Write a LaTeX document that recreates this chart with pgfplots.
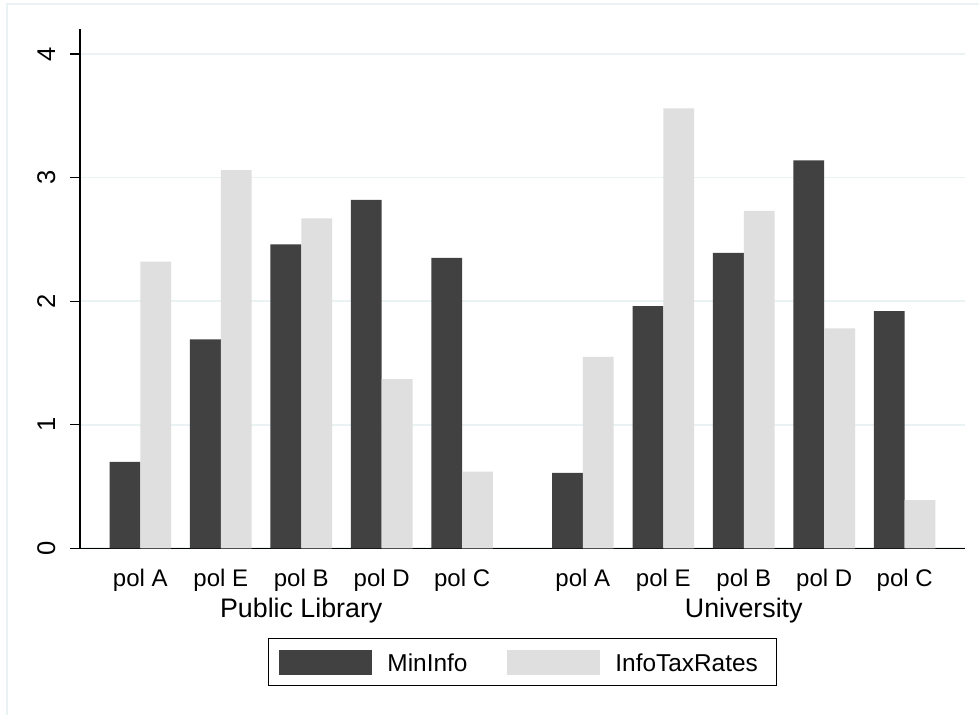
\documentclass[border=0pt]{standalone}
\usepackage{pgfplots}
\pgfplotsset{compat=1.18}
\usepackage{fontspec}
\setmainfont{Liberation Sans}
\definecolor{darkbar}{HTML}{414141}
\definecolor{lightbar}{HTML}{DFDFDF}
\definecolor{gridc}{HTML}{EAF2F3}
\begin{document}
\begin{tikzpicture}
\useasboundingbox (0,0) rectangle (489.5pt,357.5pt);
\fill[white] (0,0) rectangle (489.5pt,357.5pt);
\draw[gridc, line width=0.75pt] (3.6pt,0) -- (3.6pt,355.5pt) -- (489.5pt,355.5pt);
\begin{axis}[
  at={(40pt,83.35pt)}, anchor=south west,
  scale only axis, width=442.5pt, height=259.5pt,
  xmin=-0.75, xmax=10.25, ymin=0, ymax=4.2,
  axis x line*=bottom, axis y line*=left,
  axis line style={black, line width=0.6pt},
  ybar=0pt, bar width=15.4pt,
  xtick={0,1,2,3,4,5.5,6.5,7.5,8.5,9.5},
  xticklabels={pol A,pol E,pol B,pol D,pol C,pol A,pol E,pol B,pol D,pol C},
  xtick style={draw=none},
  ytick={0,1,2,3,4},
  ytick style={black, line width=0.6pt},
  tick align=outside, major tick length=5pt,
  ymajorgrids, grid style={gridc, line width=0.9pt},
  /pgf/number format/assume math mode=true,
  xticklabel style={font=\fontsize{12}{14}\selectfont, anchor=base, yshift=-14.2pt},
  yticklabel style={font=\fontsize{12.8}{15}\selectfont, rotate=90, anchor=base, yshift=7.5pt},
  clip=false,
  legend columns=2, legend cell align=left,
  legend style={at={(0.5,-0.1734)}, anchor=north, draw=black, line width=0.6pt,
    inner xsep=5.35pt, inner ysep=5.35pt, font=\fontsize{12.2}{14}\selectfont,
    nodes={inner sep=0pt, text height=8.8pt, text depth=0pt},
    column sep=7.5pt,
    /tikz/every even column/.append style={column sep=19.65pt}},
  legend image code/.code={\fill[#1] (0pt,-6.35pt) rectangle (46.8pt,6.35pt);},
]
\addplot[fill=darkbar, draw=none] coordinates {(0,0.70) (1,1.69) (2,2.46) (3,2.82) (4,2.35) (5.5,0.61) (6.5,1.96) (7.5,2.39) (8.5,3.14) (9.5,1.92)};
\addlegendentry{MinInfo}
\addplot[fill=lightbar, draw=none] coordinates {(0,2.32) (1,3.06) (2,2.67) (3,1.37) (4,0.62) (5.5,1.55) (6.5,3.56) (7.5,2.73) (8.5,1.78) (9.5,0.39)};
\addlegendentry{InfoTaxRates\hspace*{4.15pt}}
\node[anchor=base, font=\fontsize{13.4}{16}\selectfont] at (axis cs:2,0) [yshift=-34.5pt] {Public Library};
\node[anchor=base, font=\fontsize{13.4}{16}\selectfont] at (axis cs:7.5,0) [yshift=-34.5pt] {University};
\end{axis}
\end{tikzpicture}
\end{document}
